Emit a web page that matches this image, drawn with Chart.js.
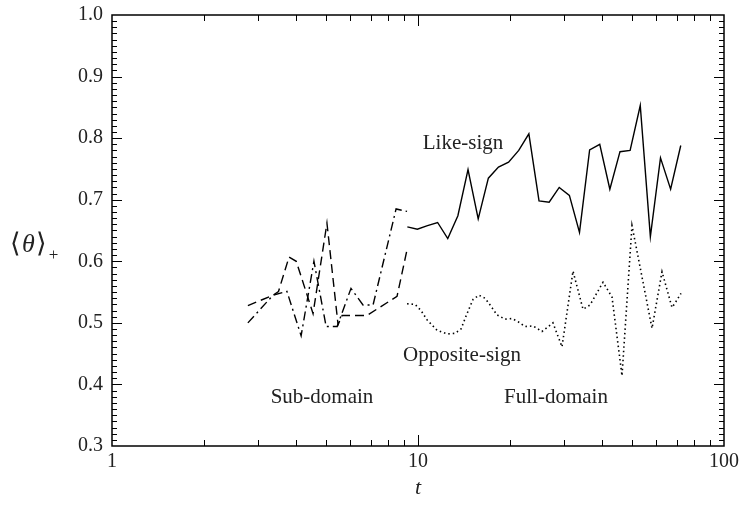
<!DOCTYPE html>
<html>
<head>
<meta charset="utf-8">
<script src="https://cdn.jsdelivr.net/npm/chart.js@4.4.1/dist/chart.umd.min.js"></script>
<style>
  html, body { margin: 0; padding: 0; background: #fff; }
</style>
</head>
<body>
<canvas id="chart" width="743" height="506"></canvas>
<script>
// Full-domain, like-sign (solid)
const fullT = [9.23, 9.95, 10.74, 11.59, 12.51, 13.50, 14.57, 15.73, 16.98, 18.32, 19.77, 21.34, 23.03, 24.86,
  26.83, 28.94, 31.24, 33.71, 36.38, 39.26, 42.36, 45.72, 49.34, 53.25, 57.46, 62.01, 66.92, 72.22];
const likeFull = [0.656, 0.652, 0.658, 0.663, 0.637, 0.674, 0.749, 0.669, 0.735, 0.753, 0.761, 0.780, 0.807, 0.698,
  0.696, 0.720, 0.707, 0.647, 0.781, 0.790, 0.717, 0.778, 0.780, 0.853, 0.640, 0.768, 0.717, 0.788];

// Full-domain, opposite-sign (dotted)
const oppT = [9.21, 9.78, 10.23, 10.70, 11.54, 12.44, 13.21, 13.82, 14.46, 15.13, 15.82, 16.56, 17.32, 18.12,
  19.24, 20.28, 21.22, 22.37, 23.76, 25.42, 27.61, 29.55, 32.10, 34.62, 36.49, 40.24, 43.05, 46.42,
  50.04, 58.18, 62.72, 67.62, 69.16, 72.36];
const oppFull = [0.531, 0.530, 0.520, 0.505, 0.488, 0.482, 0.483, 0.490, 0.515, 0.538, 0.545, 0.540, 0.527, 0.513,
  0.506, 0.507, 0.502, 0.494, 0.495, 0.486, 0.500, 0.461, 0.584, 0.522, 0.529, 0.566, 0.542, 0.414,
  0.658, 0.491, 0.583, 0.525, 0.532, 0.548];

// Sub-domain (dashed)
const subDashT = [2.78, 3.36, 3.50, 3.79, 4.00, 4.54, 5.04, 5.48, 5.65, 6.81, 8.54, 9.21];
const subDash = [0.528, 0.545, 0.551, 0.607, 0.600, 0.515, 0.662, 0.497, 0.512, 0.512, 0.543, 0.619];

// Sub-domain (dash-dot)
const subDotT = [2.78, 3.36, 3.73, 4.15, 4.57, 5.01, 5.44, 6.04, 6.61, 7.13, 8.48, 9.21];
const subDot = [0.500, 0.545, 0.551, 0.479, 0.600, 0.494, 0.494, 0.556, 0.529, 0.529, 0.685, 0.681];

const serif = "'Liberation Serif', 'Times New Roman', serif";

function pts(xs, ys) {
  return xs.map((t, i) => ({ x: t, y: ys[i] }));
}

function line(data, dash, width) {
  return {
    data,
    borderColor: "#000",
    borderWidth: width,
    borderDash: dash,
    pointRadius: 0,
    fill: false,
    tension: 0,
  };
}

// frame, inward ticks and the text labels
const frame = {
  id: "frame",
  afterDraw(chart) {
    const { ctx, chartArea: a, scales: { x, y } } = chart;
    ctx.save();
    ctx.strokeStyle = "#000";
    ctx.lineWidth = 1;
    ctx.beginPath();
    for (let d = 1; d < 100; d *= 10) {
      for (let k = 2; k <= 9; k++) {
        const px = Math.round(x.getPixelForValue(k * d)) + 0.5;
        ctx.moveTo(px, a.bottom); ctx.lineTo(px, a.bottom - 6);
        ctx.moveTo(px, a.top); ctx.lineTo(px, a.top + 6);
      }
    }
    [10].forEach((v) => {
      const px = Math.round(x.getPixelForValue(v)) + 0.5;
      ctx.moveTo(px, a.bottom); ctx.lineTo(px, a.bottom - 11);
      ctx.moveTo(px, a.top); ctx.lineTo(px, a.top + 11);
    });
    for (let i = 1; i < 70; i++) {
      const py = Math.round(y.getPixelForValue(0.3 + i * 0.01)) + 0.5;
      const len = i % 10 === 0 ? 10 : 5;
      ctx.moveTo(a.left, py); ctx.lineTo(a.left + len, py);
      ctx.moveTo(a.right, py); ctx.lineTo(a.right - len, py);
    }
    ctx.stroke();
    ctx.lineWidth = 1.5;
    ctx.strokeRect(a.left, a.top, a.right - a.left, a.bottom - a.top);

    ctx.fillStyle = "#222";
    ctx.textAlign = "center";
    ctx.textBaseline = "alphabetic";
    ctx.font = "21px " + serif;
    ctx.fillText("Like-sign", 463, 149);
    ctx.fillText("Opposite-sign", 462, 361);
    ctx.fillText("Sub-domain", 322, 403);
    ctx.fillText("Full-domain", 556, 403);

    // axis titles
    ctx.font = "italic 22px " + serif;
    ctx.fillText("t", 418, 494);

    ctx.textAlign = "left";
    let cx = 10;
    const base = 252;
    ctx.font = "27px " + serif;
    ctx.fillText("\u27E8", cx, base);
    cx += ctx.measureText("\u27E8").width + 1;
    ctx.font = "italic 26px " + serif;
    ctx.fillText("\u03B8", cx, base);
    cx += ctx.measureText("\u03B8").width + 1;
    ctx.font = "27px " + serif;
    ctx.fillText("\u27E9", cx, base);
    cx += ctx.measureText("\u27E9").width + 2;
    ctx.font = "17px " + serif;
    ctx.fillText("+", cx, base + 8);
    ctx.restore();
  },
};

new Chart(document.getElementById("chart"), {
  type: "line",
  data: {
    datasets: [
      line(pts(fullT, likeFull), [], 1.4),
      line(pts(oppT, oppFull), [1.5, 3], 1.6),
      line(pts(subDashT, subDash), [9, 5], 1.4),
      line(pts(subDotT, subDot), [9, 4, 2, 4], 1.4),
    ],
  },
  options: {
    responsive: false,
    animation: false,
    layout: { padding: { left: 0, right: 19, top: 15, bottom: 0 } },
    plugins: { legend: { display: false }, tooltip: { enabled: false } },
    scales: {
      x: {
        type: "logarithmic",
        min: 1,
        max: 100,
        grid: { display: false, drawTicks: false },
        border: { display: false },
        afterFit: (s) => { s.height = 60; },
        afterBuildTicks: (s) => { s.ticks = [1, 10, 100].map((v) => ({ value: v })); },
        ticks: {
          color: "#222",
          padding: 4,
          maxRotation: 0,
          font: { family: serif, size: 20 },
          callback: (v) => String(v),
        },
      },
      y: {
        min: 0.3,
        max: 1.0,
        grid: { display: false, drawTicks: false },
        border: { display: false },
        afterFit: (s) => { s.width = 112; s.paddingTop = 0; s.paddingBottom = 0; },
        ticks: {
          stepSize: 0.1,
          color: "#222",
          padding: 9,
          font: { family: serif, size: 20 },
          callback: (v) => v.toFixed(1),
        },
      },
    },
  },
  plugins: [frame],
});
</script>
</body>
</html>
